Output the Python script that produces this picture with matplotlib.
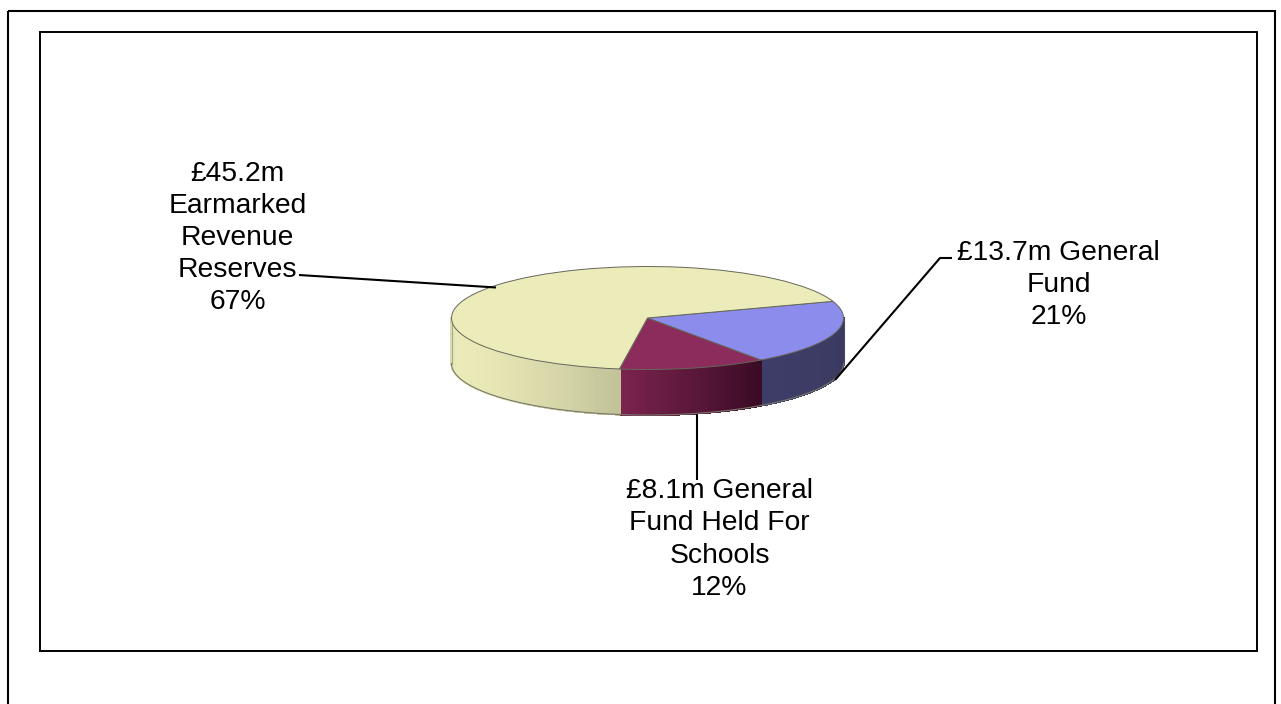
import numpy as np
import matplotlib
matplotlib.use("Agg")
import matplotlib.pyplot as plt
from matplotlib.colors import to_rgb
from matplotlib.patches import Rectangle

plt.rcParams['font.family'] = ['Liberation Sans', 'DejaVu Sans']

# Data (clockwise from the start angle)
names = ["General Fund", "General Fund Held For Schools", "Earmarked Revenue Reserves"]
amounts = [13.7, 8.1, 45.2]
top_colors = ["#8c8cec", "#8c2c5c", "#ecECba"]
label_texts = ["£13.7m General\nFund\n21%",
               "£8.1m General\nFund Held For\nSchools\n12%",
               "£45.2m\nEarmarked\nRevenue\nReserves\n67%"]

# Style / layout
W, H = 1281, 704
cx, cy, a, b, depth = 647.5, 318.0, 196.0, 51.5, 45.5
start_angle = 18.9
wall_stops = [
    ([0, 1], ["#3d3d69", "#3a3a60"]),
    ([0, 1], ["#7c2450", "#3a0b24"]),
    ([0, .18, .5, .8, 1], ["#d6d6aa", "#ecebba", "#e6e5b4", "#d4d4a8", "#c2c298"]),
]
side_colors = {-1: "#a8a88c", 1: "#4a4a66"}

fig = plt.figure(figsize=(W / 100, H / 100), dpi=100)

# Pixel-space overlay for frames, leaders and text
bg = fig.add_axes([0, 0, 1, 1], zorder=2)
bg.set_xlim(0, W); bg.set_ylim(H, 0); bg.axis('off')
bg.add_patch(Rectangle((8, 11), 1267, 740, fill=False, ec='black', lw=1.5))
bg.add_patch(Rectangle((40, 32), 1216.5, 618.5, fill=False, ec='black', lw=1.4))

# Pie axes: unit circle maps to the flattened ellipse
ylow = -1 - depth / b
ax = fig.add_axes([(cx - a) / W, 1 - (cy + b + depth) / H, 2 * a / W, (2 * b + depth) / H], zorder=1)
ax.patch.set_alpha(0)

# side walls from the same values
shares = np.array(amounts) / np.sum(amounts)
edges = start_angle - 360 * np.concatenate([[0], np.cumsum(shares)])
d = depth / b
edge_col = "#66665a"
for i in range(len(amounts)):
    t1, t0 = edges[i], edges[i + 1]
    lo, hi = max(t0, -180), min(t1, 0)
    if hi <= lo:
        continue
    pos, cols = wall_stops[i]
    cols = np.array([to_rgb(c) for c in cols])
    steps = np.linspace(lo, hi, 80)
    for s0, s1 in zip(steps[:-1], steps[1:]):
        f = (0.5 * (s0 + s1) - lo) / (hi - lo)
        col = [np.interp(f, pos, cols[:, k]) for k in range(3)]
        ang = np.radians([s0, s1])
        x = np.cos(ang); y = np.sin(ang)
        ax.fill([x[0], x[1], x[1], x[0]], [y[0], y[1], y[1] - d, y[0] - d],
                color=col, lw=1.0, antialiased=False, zorder=1, clip_on=False)
    ax.plot(np.cos(np.radians(steps)), np.sin(np.radians(steps)) - d,
            color="#77776a", lw=0.8, zorder=2, clip_on=False)

# outer vertical silhouette of the wall
for side in (-1, 1):
    ax.plot([side, side], [0, -d], color=side_colors[side], lw=0.8, zorder=2, clip_on=False)

wedges, _ = ax.pie(amounts, colors=top_colors, startangle=start_angle, counterclock=False,
                   radius=1, wedgeprops=dict(edgecolor=edge_col, linewidth=0.7, zorder=3))
ax.set_aspect('auto')
ax.set_xlim(-1, 1)
ax.set_ylim(ylow, 1)
ax.set_frame_on(False)

# Leaders
lc = dict(color='black', lw=1.5, solid_capstyle='butt', zorder=4)
bg.plot([299, 496], [275, 287.5], **lc)
bg.plot([952, 940, 835], [258, 258, 380], **lc)
bg.plot([697, 697], [414, 480], **lc)

# Labels
tk = dict(ha='center', va='center', fontsize=20.3, color='black', linespacing=1.31, zorder=5)
bg.text(1058.5, 285, label_texts[0], **tk)
bg.text(719.5, 539.5, label_texts[1], **tk)
bg.text(237.5, 238, label_texts[2], **tk)

fig.savefig("out.png", dpi=100, facecolor='white')
